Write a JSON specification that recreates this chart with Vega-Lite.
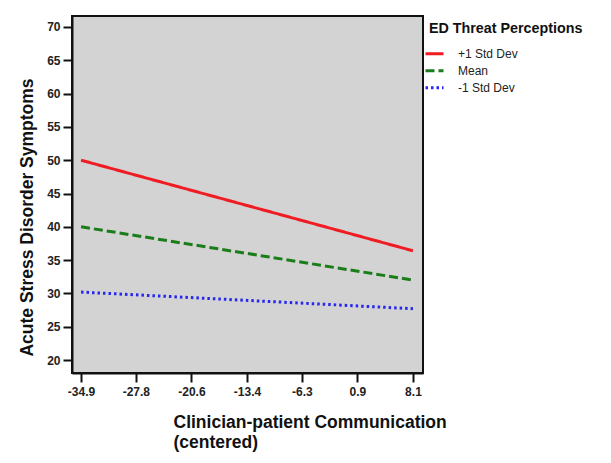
{
  "$schema": "https://vega.github.io/schema/vega-lite/v6.json",
  "width": 351,
  "height": 357,
  "autosize": {"type": "none"},
  "padding": {"left": 72, "top": 16, "right": 188, "bottom": 90},
  "background": "white",
  "config": {
    "view": {"fill": "#d3d3d3", "stroke": "#111111", "strokeWidth": 2},
    "font": "Liberation Sans",
    "axis": {"grid": false}
  },
  "data": {
    "values": [
      {"comm": -34.9, "stress": 50.0, "group": "+1 Std Dev"},
      {"comm": 8.1, "stress": 36.4, "group": "+1 Std Dev"},
      {"comm": -34.9, "stress": 40.0, "group": "Mean"},
      {"comm": 8.1, "stress": 32.0, "group": "Mean"},
      {"comm": -34.9, "stress": 30.2, "group": "-1 Std Dev"},
      {"comm": 8.1, "stress": 27.7, "group": "-1 Std Dev"}
    ]
  },
  "mark": {"type": "line", "strokeWidth": 3},
  "encoding": {
    "x": {
      "field": "comm",
      "type": "quantitative",
      "scale": {"domain": [-36.07, 9.4], "nice": false, "zero": false},
      "axis": {
        "values": [-34.9, -27.8, -20.6, -13.4, -6.3, 0.9, 8.1],
        "labelExpr": "toString(datum.value)",
        "domainColor": "#111111",
        "domainWidth": 2,
        "tickColor": "#111111",
        "tickWidth": 2,
        "tickSize": 9,
        "labelFont": "Liberation Sans",
        "labelFontSize": 12,
        "labelFontWeight": "bold",
        "labelColor": "#222222",
        "labelPadding": 4,
        "title": ["Clinician-patient Communication", "(centered)"],
        "titleFont": "Liberation Sans",
        "titleFontSize": 17.5,
        "titleFontWeight": "bold",
        "titleColor": "#111111",
        "titleAlign": "left",
        "titleAnchor": "start",
        "titleX": 101,
        "titleY": 40,
        "titleBaseline": "top",
        "titleLineHeight": 20
      }
    },
    "y": {
      "field": "stress",
      "type": "quantitative",
      "scale": {"domain": [18.05, 71.65], "nice": false, "zero": false},
      "axis": {
        "values": [20, 25, 30, 35, 40, 45, 50, 55, 60, 65, 70],
        "domainColor": "#111111",
        "domainWidth": 2,
        "tickColor": "#111111",
        "tickWidth": 2,
        "tickSize": 9,
        "labelFont": "Liberation Sans",
        "labelFontSize": 12,
        "labelFontWeight": "bold",
        "labelColor": "#222222",
        "labelPadding": 3,
        "title": "Acute Stress Disorder Symptoms",
        "titleFont": "Liberation Sans",
        "titleFontSize": 17.5,
        "titleFontWeight": "bold",
        "titleColor": "#111111",
        "titleAlign": "center",
        "titleBaseline": "middle",
        "titleX": -45,
        "titleY": 201
      }
    },
    "color": {
      "field": "group",
      "type": "nominal",
      "sort": ["+1 Std Dev", "Mean", "-1 Std Dev"],
      "scale": {"domain": ["+1 Std Dev", "Mean", "-1 Std Dev"], "range": ["#f01c24", "#1a7d1a", "#2626ee"]},
      "legend": {
        "orient": "none",
        "legendX": 357,
        "legendY": 6,
        "title": "ED Threat Perceptions",
        "titleFont": "Liberation Sans",
        "titleFontSize": 14.3,
        "titleFontWeight": "bold",
        "titleColor": "#111111",
        "titlePadding": 7,
        "labelFont": "Liberation Sans",
        "labelFontSize": 12,
        "labelColor": "#222222",
        "symbolType": "stroke",
        "symbolSize": 324,
        "symbolStrokeWidth": 3,
        "symbolOffset": -5,
        "rowPadding": 0,
        "labelOffset": 13
      }
    },
    "strokeDash": {
      "field": "group",
      "type": "nominal",
      "sort": ["+1 Std Dev", "Mean", "-1 Std Dev"],
      "scale": {"domain": ["+1 Std Dev", "Mean", "-1 Std Dev"], "range": [[1, 0], [9, 4], [2.5, 3]]},
      "legend": null
    }
  }
}
